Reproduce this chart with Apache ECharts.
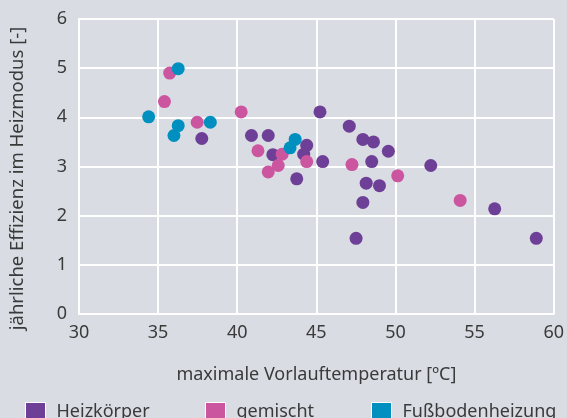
<!DOCTYPE html>
<html><head><meta charset="utf-8">
<script src="https://cdn.jsdelivr.net/npm/echarts@6/dist/echarts.min.js"></script>
<style>html,body{margin:0;padding:0;background:#d9dce3}#c{width:567px;height:418px}</style>
</head><body><div id="c"></div>
<script>
const heizkoerper = [[37.76,3.57],[40.9,3.63],[41.96,3.63],[42.25,3.24],[44.39,3.43],[44.2,3.25],[45.23,4.11],[45.4,3.1],[43.76,2.75],[47.08,3.82],[47.94,3.55],[48.61,3.5],[49.55,3.31],[48.5,3.1],[48.15,2.66],[48.99,2.61],[47.94,2.27],[52.23,3.02],[56.27,2.14],[47.51,1.54],[58.9,1.54]];
const gemischt = [[35.73,4.9],[35.4,4.32],[37.47,3.9],[40.25,4.11],[41.31,3.32],[41.96,2.89],[42.59,3.02],[42.84,3.25],[44.39,3.1],[47.25,3.04],[50.14,2.81],[54.09,2.31]];
const fussboden = [[34.4,4.01],[36.27,4.99],[36.27,3.83],[36.0,3.63],[38.3,3.9],[43.34,3.38],[43.66,3.55]];
const names = ['Heizkörper','gemischt','Fußbodenheizung'];
const colors = ['#6e3f96','#cc55a0','#0090c0'];
const font = 'Noto Sans';
const txt = '#3a3a3a';
const chart = echarts.init(document.getElementById('c'));
const lg = (n, left) => ({data:[n], left:left, top:397, icon:'rect', itemWidth:20, itemHeight:19,
  itemStyle:{borderColor:'#ffffff', borderWidth:1},
  textStyle:{fontFamily:font, fontSize:18, color:txt, padding:[0,0,0,6]}});
chart.setOption({
  backgroundColor:'#d9dce3',
  animation:false,
  grid:{left:78, right:11, top:19, bottom:104},
  xAxis:{type:'value', min:30, max:60, interval:5,
    name:'maximale Vorlauftemperatur [ºC]', nameLocation:'middle', nameGap:52,
    nameTextStyle:{fontFamily:font, fontSize:18, color:txt},
    axisLine:{show:true, lineStyle:{color:'#fff', width:2}}, axisTick:{show:false},
    axisLabel:{fontFamily:font, fontSize:18, color:txt, margin:10},
    splitLine:{lineStyle:{color:'#fff', width:2}}},
  yAxis:{type:'value', min:0, max:6, interval:1,
    name:'jährliche Effizienz im Heizmodus [-]', nameLocation:'middle', nameGap:52,
    nameTextStyle:{fontFamily:font, fontSize:18.5, color:txt, padding:[0,24,0,0]},
    axisLine:{show:true, lineStyle:{color:'#fff', width:2}}, axisTick:{show:false},
    axisLabel:{fontFamily:font, fontSize:18, color:txt, margin:12},
    splitLine:{lineStyle:{color:'#fff', width:2}}},
  legend:[lg(names[0],20), lg(names[1],200), lg(names[2],366)],
  series:[
    {name:names[0], type:'scatter', data:heizkoerper, symbolSize:13, itemStyle:{color:colors[0], opacity:1}},
    {name:names[1], type:'scatter', data:gemischt, symbolSize:13, itemStyle:{color:colors[1], opacity:1}},
    {name:names[2], type:'scatter', data:fussboden, symbolSize:13, itemStyle:{color:colors[2], opacity:1}}
  ]
});
</script></body></html>
